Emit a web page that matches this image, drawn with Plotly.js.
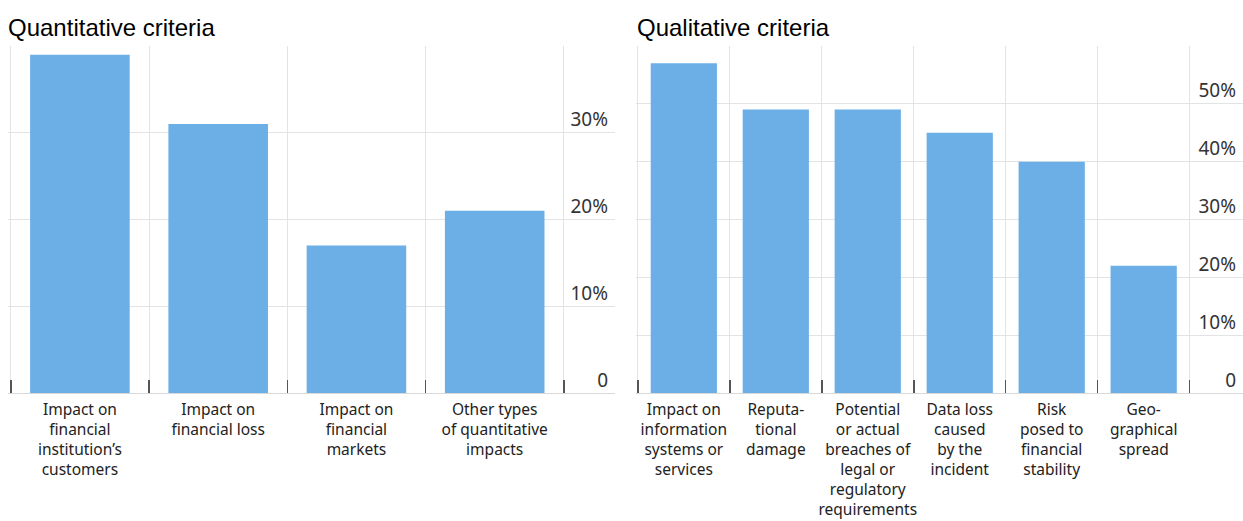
<!DOCTYPE html>
<html>
<head>
<meta charset="utf-8">
<script src="https://cdn.plot.ly/plotly-3.0.1.min.js"></script>
<style>html,body{margin:0;padding:0;background:#fff;}#chart{width:1243px;height:521px;}</style>
</head>
<body>
<div id="chart"></div>
<script>
const quantCats = ["Impact on<br>financial<br>institution’s<br>customers", "Impact on<br>financial loss", "Impact on<br>financial<br>markets", "Other types<br>of quantitative<br>impacts"];
const quantVals = [39, 31, 17, 21];
const qualCats = ["Impact on<br>information<br>systems or<br>services", "Reputa-<br>tional<br>damage", "Potential<br>or actual<br>breaches of<br>legal or<br>regulatory<br>requirements", "Data loss<br>caused<br>by the<br>incident", "Risk<br>posed to<br>financial<br>stability", "Geo-<br>graphical<br>spread"];
const qualVals = [57, 49, 49, 45, 40, 22];
const quantTickVals = [0, 10, 20, 30, 40];
const quantTickText = ["0", "10%", "20%", "30%", ""];
const qualTickVals = [0, 10, 20, 30, 40, 50, 60];
const qualTickText = ["0", "10%", "20%", "30%", "40%", "50%", ""];
const titles = ["Quantitative criteria", "Qualitative criteria"];

const barColor = "#6CAEE6";
const gridColor = "#e3e3e3";
const W = 1243;

const traces = [
  {type: "bar", x: quantCats, y: quantVals, xaxis: "x", yaxis: "y", marker: {color: barColor}, hoverinfo: "skip"},
  {type: "bar", x: qualCats, y: qualVals, xaxis: "x2", yaxis: "y2", marker: {color: barColor}, hoverinfo: "skip"}
];

function xax(domain, n, extra) {
  return {
    domain: domain, type: "category", range: [-0.52, n - 0.5 + extra],
    tickson: "boundaries", ticks: "inside", ticklen: 13, tickcolor: "#555", tickwidth: 1.5,
    showgrid: true, gridcolor: gridColor, gridwidth: 1,
    showline: true, linecolor: "#d9d9d9", linewidth: 1,
    ticklabelstandoff: 2,
    tickfont: {family: "Noto Sans, Open Sans, sans-serif", size: 15.5, color: "#222"},
    tickangle: 0, fixedrange: true, automargin: false
  };
}
function yax(anchor, max, tv, tt) {
  return {
    anchor: anchor, side: "right", range: [0, max], tickvals: tv, ticktext: tt,
    ticklabelposition: "inside", ticklabelshift: -13, ticklabelstandoff: 4,
    showgrid: true, gridcolor: gridColor, gridwidth: 1, zeroline: false,
    ticks: "", showline: false,
    tickfont: {family: "Noto Sans, Open Sans, sans-serif", size: 19, color: "#333"},
    fixedrange: true, automargin: false
  };
}

const layout = {
  width: 1243, height: 521,
  margin: {l: 0, r: 0, t: 46, b: 128, pad: 0},
  paper_bgcolor: "#fff", plot_bgcolor: "#fff",
  showlegend: false, bargap: 0.28,
  xaxis: xax([8 / W, 615 / W], quantCats.length, 0.37),
  yaxis: yax("x", 40, quantTickVals, quantTickText),
  xaxis2: xax([636 / W, 1], qualCats.length, 0.58),
  yaxis2: yax("x2", 60, qualTickVals, qualTickText),
  annotations: [
    {text: titles[0], xref: "paper", yref: "paper", x: 6 / W, y: 1, xanchor: "left", yanchor: "bottom", yshift: 3, showarrow: false,
     font: {family: "Liberation Sans, Arial, sans-serif", size: 24, color: "#000"}},
    {text: titles[1], xref: "paper", yref: "paper", x: 635 / W, y: 1, xanchor: "left", yanchor: "bottom", yshift: 3, showarrow: false,
     font: {family: "Liberation Sans, Arial, sans-serif", size: 24, color: "#000"}}
  ]
};

Plotly.newPlot("chart", traces, layout, {displayModeBar: false, staticPlot: true});
</script>
</body>
</html>
